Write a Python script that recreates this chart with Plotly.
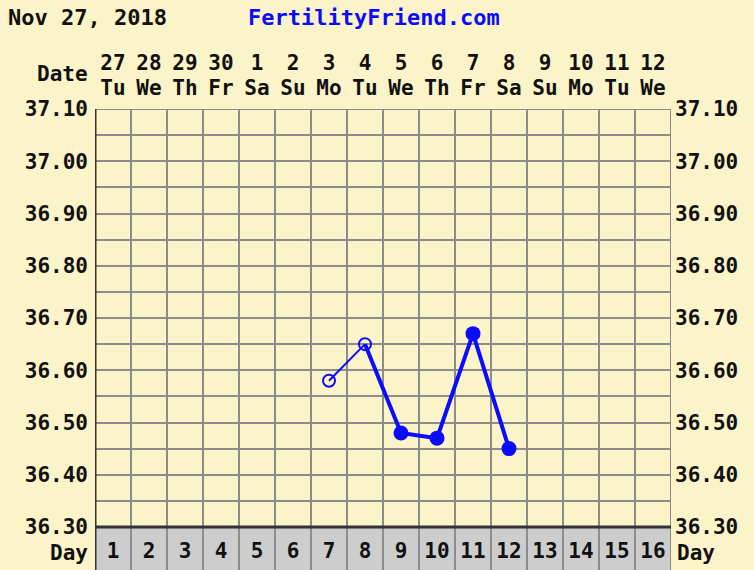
import plotly.graph_objects as go

# ---- data ----
cycle_days = list(range(1, 17))
day_labels = [str(d) for d in cycle_days]
date_labels = ["27", "28", "29", "30", "1", "2", "3", "4", "5", "6", "7", "8", "9", "10", "11", "12"]
weekday_labels = ["Tu", "We", "Th", "Fr", "Sa", "Su", "Mo", "Tu", "We", "Th", "Fr", "Sa", "Su", "Mo", "Tu", "We"]

open_days = [7, 8]
open_temps = [36.58, 36.65]
filled_days = [9, 10, 11, 12]
filled_temps = [36.48, 36.47, 36.67, 36.45]

temp_ticks = [round(36.30 + 0.05 * i, 2) for i in range(17)]
temp_text = [f"{v:.2f}" if i % 2 == 0 else "" for i, v in enumerate(temp_ticks)]

header_date = "Nov 27, 2018"
header_site = "FertilityFriend.com"

# ---- style ----
CREAM = "#fbf4c8"
GRAYROW = "#cdcdcd"
GRID = "#8c8c8c"
DARK = "#333333"
BLUE = "#0b0bff"
FONT = dict(family="DejaVu Sans Mono", size=21, color="#111111", weight="bold")
HFONT = dict(FONT, size=22)

W, H = 754, 570
L, R, T, B = 95, 83, 109, 0
plot_h = H - T - B
plot_w = W - L - R
y_top = 37.10
y_base = 36.30
px_per_unit = (527 - 109) / (y_top - y_base)
y_min = y_base - (H - 527) / px_per_unit
day_row_y = y_base - 26 / px_per_unit

fig = go.Figure()

# day-number labels inside the grey row
fig.add_trace(go.Scatter(
    x=cycle_days, y=[day_row_y] * len(cycle_days),
    mode="text", text=day_labels, textfont=FONT, hoverinfo="skip", showlegend=False))

# thin line between open points, thick line from day 8 onward
fig.add_trace(go.Scatter(x=open_days, y=open_temps, mode="lines",
                         line=dict(color=BLUE, width=2), showlegend=False))
fig.add_trace(go.Scatter(x=[open_days[-1]] + filled_days, y=[open_temps[-1]] + filled_temps,
                         mode="lines", line=dict(color=BLUE, width=4), showlegend=False))
fig.add_trace(go.Scatter(x=open_days, y=open_temps, mode="markers",
                         marker=dict(symbol="circle-open", size=12, color=BLUE, line=dict(width=2)),
                         showlegend=False))
fig.add_trace(go.Scatter(x=filled_days, y=filled_temps, mode="markers",
                         marker=dict(symbol="circle", size=15, color=BLUE), showlegend=False))

shapes = [
    dict(type="rect", xref="x", yref="y", x0=0.5, x1=16.5, y0=y_min, y1=y_base,
         fillcolor=GRAYROW, line=dict(width=0), layer="below"),
    dict(type="line", xref="x", yref="y", x0=0.5, x1=16.5, y0=y_base, y1=y_base,
         line=dict(color=DARK, width=3)),
    dict(type="line", xref="x", yref="y", x0=0.5, x1=16.5, y0=y_top, y1=y_top,
         line=dict(color=GRID, width=2), layer="below"),
    dict(type="line", xref="x", yref="y", x0=16.5, x1=16.5, y0=y_min, y1=y_top,
         line=dict(color=GRID, width=2), layer="below"),
    dict(type="line", xref="x", yref="y", x0=0.5, x1=0.5, y0=y_min, y1=y_top,
         line=dict(color=DARK, width=3)),
]

annotations = [
    dict(text=header_date, xref="paper", yref="paper", x=(6 - L) / plot_w, y=1 + (T - 17) / plot_h,
         xanchor="left", yanchor="middle", showarrow=False, font=HFONT),
    dict(text=header_site, xref="paper", yref="paper", x=(246 - L) / plot_w, y=1 + (T - 17) / plot_h,
         xanchor="left", yanchor="middle", showarrow=False, font=dict(HFONT, color="#0a0aff")),
    dict(text="Date", xref="paper", yref="paper", x=(90 - L) / plot_w, y=1 + (T - 74) / plot_h,
         xanchor="right", yanchor="middle", showarrow=False, font=FONT),
    dict(text="Day", xref="paper", yref="y", x=(90 - L) / plot_w, y=day_row_y,
         xanchor="right", yanchor="middle", showarrow=False, font=FONT),
    dict(text="Day", xref="paper", yref="y", x=(675 - L) / plot_w, y=day_row_y,
         xanchor="left", yanchor="middle", showarrow=False, font=FONT),
]

fig.update_layout(
    width=W, height=H, autosize=False,
    margin=dict(l=L, r=R, t=T, b=B, pad=0, autoexpand=False),
    paper_bgcolor=CREAM, plot_bgcolor=CREAM,
    showlegend=False,
    shapes=shapes, annotations=annotations,
    xaxis=dict(range=[0.5, 16.5], showticklabels=False, ticks="", showgrid=False, zeroline=False,
               minor=dict(tick0=0.5, dtick=1, showgrid=True, gridcolor=GRID, gridwidth=2, ticks=""),
               fixedrange=True, automargin=False),
    xaxis2=dict(overlaying="x", side="top", anchor="y", range=[0.5, 16.5], tickmode="array",
                tickvals=cycle_days, ticktext=date_labels, tickfont=FONT, ticks="",
                showgrid=False, zeroline=False, ticklabelstandoff=34, automargin=False),
    xaxis3=dict(overlaying="x", side="top", anchor="y", range=[0.5, 16.5], tickmode="array",
                tickvals=cycle_days, ticktext=weekday_labels, tickfont=FONT, ticks="",
                showgrid=False, zeroline=False, ticklabelstandoff=9, automargin=False),
    yaxis=dict(range=[y_min, y_top], tickmode="array", tickvals=temp_ticks, ticktext=temp_text,
               tickfont=FONT, ticks="", showgrid=True, gridcolor=GRID, gridwidth=2, zeroline=False,
               ticklabelstandoff=6, fixedrange=True, automargin=False),
    yaxis2=dict(overlaying="y", side="right", anchor="x", range=[y_min, y_top], tickmode="array",
                tickvals=temp_ticks, ticktext=temp_text, tickfont=FONT, ticks="", showgrid=False,
                zeroline=False, ticklabelstandoff=3, automargin=False),
)

# invisible traces to activate the extra axes
fig.add_trace(go.Scatter(x=[1], y=[y_top], xaxis="x2", yaxis="y", mode="markers",
                         marker=dict(opacity=0), hoverinfo="skip", showlegend=False))
fig.add_trace(go.Scatter(x=[1], y=[y_top], xaxis="x3", yaxis="y2", mode="markers",
                         marker=dict(opacity=0), hoverinfo="skip", showlegend=False))

fig.write_html("out.html", config={"displayModeBar": False},
               post_script="document.body.style.margin='0';document.body.style.overflow='hidden';")
